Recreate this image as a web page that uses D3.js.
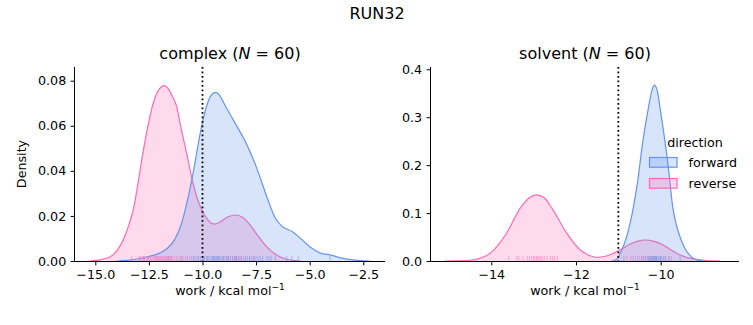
<!DOCTYPE html>
<html>
<head>
<meta charset="utf-8">
<script src="https://cdn.jsdelivr.net/npm/d3@7"></script>
<style>
  html, body { margin: 0; padding: 0; background: #fff; }
  svg { display: block; font-family: "DejaVu Sans", sans-serif; }
</style>
</head>
<body>
<svg id="chart" width="753" height="325"></svg>
<script>
// ---------------- DATA ----------------
const figureTitle = "RUN32";
const directions = ["forward", "reverse"];
const colors = { forward: "#6495ED", reverse: "#FF69B4" };

// complex panel: KDE curves (work, density)
const complexForwardWork    = [-14.0, -13.5, -13.0, -12.5, -12.0, -11.6, -11.3, -11.0, -10.7, -10.4, -10.1, -9.8, -9.6, -9.4, -9.2, -9.0, -8.5, -8.0, -7.5, -7.0, -6.6, -6.3, -5.8, -5.4, -5.0, -4.5, -4.0, -3.5, -3.0, -2.5, -2.2];
const complexForwardDensity = [0.0, 0.0003, 0.001, 0.002, 0.0035, 0.006, 0.0095, 0.016, 0.027, 0.041, 0.057, 0.069, 0.0735, 0.0748, 0.0735, 0.070, 0.0615, 0.053, 0.042, 0.0285, 0.019, 0.0155, 0.013, 0.0098, 0.0063, 0.0035, 0.0026, 0.0013, 0.0005, 0.0001, 0.0];
const complexReverseWork    = [-15.25, -14.8, -14.3, -14.0, -13.7, -13.4, -13.2, -13.0, -12.76, -12.5, -12.3, -12.0, -11.8, -11.6, -11.4, -11.2, -11.0, -10.74, -10.5, -10.27, -10.0, -9.8, -9.6, -9.4, -9.1, -8.8, -8.45, -8.1, -7.78, -7.4, -7.0, -6.6, -6.23, -5.8, -5.45];
const complexReverseDensity = [0.0, 0.0005, 0.0019, 0.0045, 0.0093, 0.017, 0.024, 0.035, 0.049, 0.062, 0.070, 0.0765, 0.0778, 0.0765, 0.073, 0.0684, 0.059, 0.0478, 0.037, 0.0285, 0.022, 0.0189, 0.0168, 0.0164, 0.0178, 0.0196, 0.0204, 0.0192, 0.016, 0.011, 0.0063, 0.003, 0.0012, 0.0003, 0.0];

// solvent panel: KDE curves
const solventForwardWork    = [-11.15, -11.05, -10.95, -10.8, -10.65, -10.53, -10.43, -10.3, -10.2, -10.15, -10.08, -10.0, -9.9, -9.8, -9.72, -9.62, -9.5, -9.4, -9.25, -9.1, -9.0];
const solventForwardDensity = [0.0, 0.003, 0.017, 0.052, 0.11, 0.175, 0.245, 0.315, 0.358, 0.367, 0.355, 0.31, 0.25, 0.18, 0.115, 0.072, 0.04, 0.022, 0.007, 0.001, 0.0];
const solventReverseWork    = [-15.1, -14.8, -14.5, -14.27, -14.0, -13.87, -13.64, -13.32, -13.1, -12.93, -12.75, -12.54, -12.22, -11.9, -11.7, -11.51, -11.3, -11.12, -10.9, -10.72, -10.55, -10.37, -10.15, -9.94, -9.75, -9.54, -9.35, -9.15, -8.9, -8.6];
const solventReverseDensity = [0.0, 0.0004, 0.0016, 0.0056, 0.018, 0.030, 0.058, 0.11, 0.132, 0.138, 0.132, 0.106, 0.058, 0.023, 0.012, 0.0077, 0.010, 0.016, 0.026, 0.0355, 0.041, 0.0438, 0.041, 0.0334, 0.023, 0.0125, 0.0065, 0.0035, 0.001, 0.0];

// rug samples (work values)
const complexForwardRug = [-11.6, -11.0, -10.7, -10.5, -10.4, -10.3, -10.2, -10.1, -10.0, -9.95, -9.9, -9.8, -9.75, -9.7, -9.6, -9.55, -9.5, -9.45, -9.4, -9.35, -9.3, -9.25, -9.2, -9.1, -9.05, -9.0, -8.9, -8.85, -8.8, -8.7, -8.6, -8.5, -8.45, -8.4, -8.3, -8.2, -8.1, -8.0, -7.9, -7.8, -7.7, -7.6, -7.5, -7.4, -7.3, -7.2, -7.0, -6.9, -6.8, -6.6, -6.07, -5.84, -5.53, -4.05];
const complexReverseRug = [-13.3, -12.95, -12.9, -12.8, -12.75, -12.7, -12.6, -12.55, -12.5, -12.45, -12.4, -12.3, -12.25, -12.2, -12.15, -12.1, -12.05, -12.0, -11.95, -11.9, -11.85, -11.8, -11.75, -11.7, -11.65, -11.6, -11.55, -11.5, -11.45, -11.4, -11.3, -11.2, -11.1, -11.0, -10.9, -10.8, -10.6, -10.4, -10.2, -9.8, -9.5, -9.2, -9.0, -8.8, -8.7, -8.6, -8.5, -8.4, -8.3, -8.2, -8.0, -7.8, -7.6];
const solventForwardRug = [-10.87, -10.65, -10.55, -10.45, -10.4, -10.35, -10.3, -10.28, -10.25, -10.22, -10.2, -10.18, -10.16, -10.14, -10.12, -10.1, -10.08, -10.05, -10.02, -10.0, -9.97, -9.93, -9.88, -9.82, -9.75, -9.54];
const solventReverseRug = [-13.59, -13.4, -13.35, -13.25, -13.15, -13.1, -13.05, -13.0, -12.97, -12.93, -12.9, -12.87, -12.83, -12.8, -12.75, -12.68, -12.6, -12.55, -12.5, -12.44, -10.8, -10.7, -10.6, -10.5, -10.45, -10.4, -10.35, -10.3, -10.25, -10.2, -10.15, -10.1, -10.0, -9.9, -9.8];

// ticks
const complexXTicks = [-15.0, -12.5, -10.0, -7.5, -5.0, -2.5];
const complexYTicks = [0.00, 0.02, 0.04, 0.06, 0.08];
const solventXTicks = [-14, -12, -10];
const solventYTicks = [0.0, 0.1, 0.2, 0.3, 0.4];

const complexMeanLine = -10.0;
const solventMeanLine = -11.0;

// ---------------- DRAW ----------------
const svg = d3.select("#chart");
const minus = s => s.replace(/-/g, "\u2212");
const TICK_FS = 12.7;
const TITLE_FS = 16;

svg.append("text")
  .attr("x", 377).attr("y", 18.5)
  .attr("text-anchor", "middle")
  .attr("font-size", TITLE_FS)
  .text(figureTitle);

function panel(cfg) {
  const x = d3.scaleLinear().domain(cfg.xDomain).range([cfg.left, cfg.right]);
  const y = d3.scaleLinear().domain(cfg.yDomain).range([cfg.bottom, cfg.top]);
  const g = svg.append("g");

  const area = d3.area().x(d => x(d[0])).y0(y(0)).y1(d => y(d[1])).curve(d3.curveMonotoneX);
  const line = d3.line().x(d => x(d[0])).y(d => y(d[1])).curve(d3.curveMonotoneX);

  // draw reverse first, then forward
  cfg.curves.forEach(c => {
    const pts = c.work.map((w, i) => [w, c.density[i]]);
    g.append("path").datum(pts).attr("d", area)
      .attr("fill", colors[c.dir]).attr("fill-opacity", 0.25).attr("stroke", "none");
    g.append("path").datum(pts).attr("d", line)
      .attr("fill", "none").attr("stroke", colors[c.dir]).attr("stroke-width", 1.2);
  });

  // rug
  cfg.rugs.forEach(r => {
    g.selectAll(null).data(r.values).enter().append("line")
      .attr("x1", d => x(d)).attr("x2", d => x(d))
      .attr("y1", cfg.bottom).attr("y2", cfg.bottom - 5)
      .attr("stroke", colors[r.dir]).attr("stroke-opacity", 0.5).attr("stroke-width", 1);
  });

  // dotted vertical line
  g.append("line")
    .attr("x1", x(cfg.vline)).attr("x2", x(cfg.vline))
    .attr("y1", cfg.top).attr("y2", cfg.bottom)
    .attr("stroke", "#000").attr("stroke-width", 1.8)
    .attr("stroke-dasharray", "1.8,2.7");

  // axes
  const xAxis = d3.axisBottom(x).tickValues(cfg.xTicks).tickSize(4.4).tickPadding(4.4)
    .tickFormat(d => minus(d3.format(cfg.xFmt)(d)));
  const yAxis = d3.axisLeft(y).tickValues(cfg.yTicks).tickSize(4.4).tickPadding(4.4)
    .tickFormat(d => d3.format(cfg.yFmt)(d));

  const gx = g.append("g").attr("transform", `translate(0,${cfg.bottom})`).call(xAxis);
  const gy = g.append("g").attr("transform", `translate(${cfg.left},0)`).call(yAxis);
  [gx, gy].forEach(a => {
    a.selectAll("text").attr("font-size", TICK_FS).attr("fill", "#000").attr("font-family", "DejaVu Sans");
    a.selectAll("line").attr("stroke", "#000").attr("stroke-width", 1);
    a.select(".domain").attr("stroke", "#000").attr("stroke-width", 1);
    a.attr("font-family", "DejaVu Sans");
  });
  gx.select(".domain").attr("d", `M${cfg.left},0.5H${cfg.right}`);
  gy.select(".domain").attr("d", `M-0.5,${cfg.bottom}V${cfg.top}`);

  // x label
  const xl = g.append("text")
    .attr("x", (cfg.left + cfg.right) / 2).attr("y", 295)
    .attr("text-anchor", "middle").attr("font-size", TICK_FS);
  xl.append("tspan").text("work / kcal mol");
  xl.append("tspan").attr("font-size", 9).attr("dy", -5).text("\u22121");

  // title
  const t = g.append("text")
    .attr("x", (cfg.left + cfg.right) / 2).attr("y", 58.5)
    .attr("text-anchor", "middle").attr("font-size", TITLE_FS);
  t.append("tspan").text(cfg.name + " (");
  t.append("tspan").attr("font-style", "italic").text("N");
  t.append("tspan").text(" = 60)");

  if (cfg.ylabel) {
    svg.append("text")
      .attr("transform", `translate(25.5,${(cfg.top + cfg.bottom) / 2}) rotate(-90)`)
      .attr("text-anchor", "middle").attr("font-size", TICK_FS)
      .text("Density");
  }
}

panel({
  name: "complex", left: 75, right: 385, top: 67, bottom: 261,
  xDomain: [-15.947, -1.487], yDomain: [0, 0.08608],
  xTicks: complexXTicks, yTicks: complexYTicks, xFmt: ".1f", yFmt: ".2f",
  vline: complexMeanLine, ylabel: true,
  curves: [
    { dir: "reverse", work: complexReverseWork, density: complexReverseDensity },
    { dir: "forward", work: complexForwardWork, density: complexForwardDensity }
  ],
  rugs: [
    { dir: "reverse", values: complexReverseRug },
    { dir: "forward", values: complexForwardRug }
  ]
});

panel({
  name: "solvent", left: 431, right: 739, top: 67, bottom: 261,
  xDomain: [-15.424, -8.151], yDomain: [0, 0.4048],
  xTicks: solventXTicks, yTicks: solventYTicks, xFmt: "d", yFmt: ".1f",
  vline: solventMeanLine, ylabel: false,
  curves: [
    { dir: "reverse", work: solventReverseWork, density: solventReverseDensity },
    { dir: "forward", work: solventForwardWork, density: solventForwardDensity }
  ],
  rugs: [
    { dir: "reverse", values: solventReverseRug },
    { dir: "forward", values: solventForwardRug }
  ]
});

// legend
const leg = svg.append("g");
leg.append("text").attr("x", 695).attr("y", 146.5).attr("text-anchor", "middle")
  .attr("font-size", TICK_FS).text("direction");
directions.forEach((d, i) => {
  const yy = 157.5 + i * 21;
  leg.append("rect").attr("x", 649.5).attr("y", yy).attr("width", 27.5).attr("height", 9.7)
    .attr("fill", colors[d]).attr("fill-opacity", 0.25)
    .attr("stroke", colors[d]).attr("stroke-width", 1.2);
  leg.append("text").attr("x", 688.5).attr("y", yy + 9).attr("font-size", TICK_FS).text(d);
});
</script>
</body>
</html>
